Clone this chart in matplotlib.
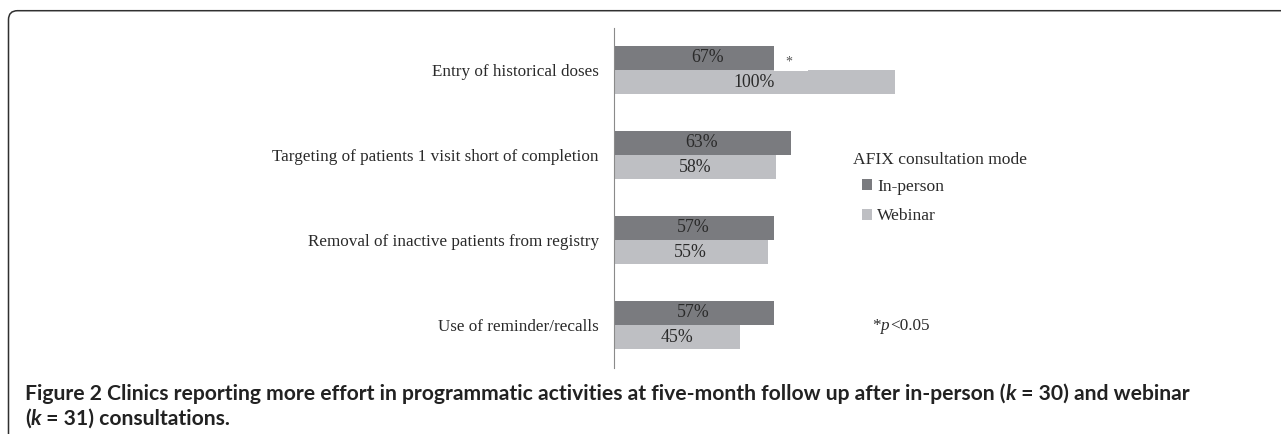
import matplotlib
matplotlib.use("Agg")
import matplotlib.pyplot as plt
from matplotlib.patches import FancyBboxPatch, Patch, Rectangle
from matplotlib.transforms import IdentityTransform

categories = ["Entry of historical doses",
              "Targeting of patients 1 visit short of completion",
              "Removal of inactive patients from registry",
              "Use of reminder/recalls"]
in_person = [67, 63, 57, 57]
webinar = [100, 58, 55, 45]
series_names = ["In-person", "Webinar"]
significant = [True, False, False, False]

W, H, DPI = 1281, 434, 100
fig = plt.figure(figsize=(W / DPI, H / DPI), dpi=DPI)
fig.patch.set_facecolor("white")

SERIF = "Liberation Serif"
C_IN = "#7a7b7f"
C_WEB = "#bebfc3"
TXT = "#2a2a2a"

def px_axes(x0, y0_top, x1, y1_top):
    return [x0 / W, 1 - y1_top / H, (x1 - x0) / W, (y1_top - y0_top) / H]

# frame (rounded, open at right/bottom)
frame = FancyBboxPatch((8.5, -30), W + 40, H + 30 - 10.7,
                       boxstyle="round,pad=0,rounding_size=9",
                       transform=IdentityTransform(), fill=False,
                       edgecolor="#303030", linewidth=1.1, zorder=0)
fig.patches.append(frame)

ax = fig.add_axes(px_axes(613.5, 27.5, 894.5, 367.5))
ax.set_facecolor("none")
ax.set_xlim(0, 100)
ax.set_ylim(len(categories) - 0.5, -0.5)
h = 24.3 / 85.0
ys = list(range(len(categories)))
b1 = ax.barh([y - h / 2 for y in ys], in_person, height=h, color=C_IN, zorder=2)
b2 = ax.barh([y + h / 2 for y in ys], webinar, height=h, color=C_WEB, zorder=2)
for bars, vals in ((b1, in_person), (b2, webinar)):
    for y, v, r in zip(ys, vals, bars):
        yc = r.get_y() + r.get_height() / 2
        ax.text(v / 2, yc, f"{v}%", ha="center", va="center",
                fontfamily=SERIF, fontsize=12.8, color=TXT, zorder=4)

# significance marker in white box
for y, s, v in zip(ys, significant, in_person):
    if s:
        ax.add_patch(Rectangle((57.1, y - h), 12.1, h + 0.01, facecolor="white",
                               edgecolor="none", zorder=3))
        ax.text(62.5, y - h / 2 + 0.05, "*", ha="center", va="center",
                fontfamily=SERIF, fontsize=10, color="#555555", zorder=4)

for s in ("top", "right", "bottom"):
    ax.spines[s].set_visible(False)
ax.spines["left"].set_color("#8a8a8a")
ax.spines["left"].set_linewidth(0.8)
ax.set_xticks([])
ax.set_yticks(ys)
ax.set_yticklabels(categories, fontfamily=SERIF, fontsize=12.3, color=TXT)
ax.tick_params(axis="y", length=0, pad=10.5)

# legend
handles = [Patch(facecolor=C_IN, edgecolor="none"), Patch(facecolor=C_WEB, edgecolor="none")]
leg = fig.legend(handles, series_names, loc="upper left",
                 bbox_to_anchor=(861.5 / W, 1 - 179 / H), frameon=False,
                 prop={"family": SERIF, "size": 12.6}, handlelength=0.6,
                 handleheight=0.6, handletextpad=0.28, labelspacing=0.76,
                 borderpad=0, borderaxespad=0)
for t in leg.get_texts():
    t.set_color(TXT)
fig.text(853 / W, 1 - 160.5 / H, "AFIX consultation mode", ha="left", va="center",
         fontfamily=SERIF, fontsize=12.6, color=TXT)

renderer = fig.canvas.get_renderer()

def draw_pieces(x, y, pieces, **kw):
    cur = x
    for txt, extra in pieces:
        opts = dict(kw)
        opts.update(extra)
        t = fig.text(cur / W, 1 - y / H, txt, ha="left", va="baseline", **opts)
        bb = t.get_window_extent(renderer)
        cur += bb.width
    return cur

draw_pieces(872.5, 330, [("*", {}), ("p", {"style": "italic"}), ("<0.05", {})],
            fontfamily=SERIF, fontsize=12.3, color=TXT)

CAP = dict(fontfamily="Lato", fontsize=15.2, fontweight="bold", color="#222222")
draw_pieces(25, 400, [("Figure 2 Clinics reporting more effort in programmatic activities at five-month follow up after in-person (", {}),
                      ("k", {"style": "italic"}),
                      (" = 30) and webinar", {})], **CAP)
draw_pieces(25, 425, [("(", {}), ("k", {"style": "italic"}), (" = 31) consultations.", {})], **CAP)

fig.savefig("out.png", dpi=DPI)
